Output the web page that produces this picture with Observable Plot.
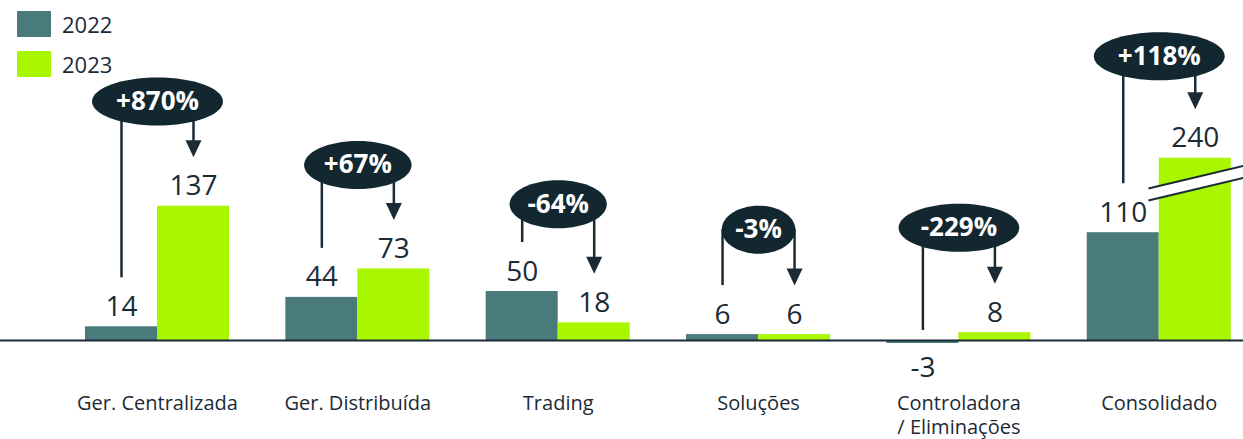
<!DOCTYPE html>
<html><head><meta charset="utf-8">
<script src="https://cdn.jsdelivr.net/npm/d3@7"></script>
<script src="https://cdn.jsdelivr.net/npm/@observablehq/plot@0.6"></script>
<style>
body{margin:0;background:#fff;}
#wrap{position:relative;width:1243px;height:439px;font-family:"Open Sans",sans-serif;overflow:hidden;}
#wrap svg{position:absolute;left:0;top:0;}
.leg{position:absolute;left:17px;height:26px;display:flex;align-items:center;font-size:22px;color:#1b2b36;z-index:2;}
.leg .sw{width:34px;height:26px;margin-right:11px;display:inline-block;}
</style></head><body><div id="wrap"></div>
<script>
// ---- data ----
const categories = ["Ger. Centralizada", "Ger. Distribuída", "Trading", "Soluções", "Controladora\n/ Eliminações", "Consolidado"];
const years = ["2022", "2023"];
const values2022 = [14, 44, 50, 6, -3, 110];
const values2023 = [137, 73, 18, 6, 8, 240];
const changeLabels = ["+870%", "+67%", "-64%", "-3%", "-229%", "+118%"];
const bubbleLevels = [244, 179, 139, 113, 115, 290];   // annotation level (value units)
const breakCap = 186;          // value at which the broken bar is cut
const breakLine = [149, 172];  // axis-break band, left & right level (value units)

// ---- styles ----
const navy = "#1b2b36", bubbleFill = "#132731";
const c22 = "#497a7c", c23 = "#a8f700";
const FONT = "Open Sans";
const half = 0.3594;           // bar width in group units

const bars = [];
categories.forEach((c, i) => {
  [values2022[i], values2023[i]].forEach((v, j) => {
    bars.push({i, year: years[j], value: v, shown: Math.min(v, breakCap),
      x1: j === 0 ? i - half : i, x2: j === 0 ? i : i + half, xc: j === 0 ? i - half / 2 : i + half / 2});
  });
});

const cv = document.createElement("canvas").getContext("2d");
cv.font = `700 26px "${FONT}"`;
const groups = categories.map((c, i) => ({
  i, v22: values2022[i], v23: Math.min(values2023[i], breakCap), label: changeLabels[i],
  level: bubbleLevels[i], rx: 0.79 * cv.measureText(changeLabels[i]).width
}));

const ellipseSymbol = {draw(ctx, size) {
  const rx = Math.sqrt(size / Math.PI), ry = 24, k = 0.5523;
  ctx.moveTo(rx, 0);
  ctx.bezierCurveTo(rx, ry * k, rx * k, ry, 0, ry);
  ctx.bezierCurveTo(-rx * k, ry, -rx, ry * k, -rx, 0);
  ctx.bezierCurveTo(-rx, -ry * k, -rx * k, -ry, 0, -ry);
  ctx.bezierCurveTo(rx * k, -ry, rx, -ry * k, rx, 0);
  ctx.closePath();
}};
const arrowSymbol = {draw(ctx) { ctx.moveTo(0, 0); ctx.lineTo(-8, -17); ctx.lineTo(8, -17); ctx.closePath(); }};

const xDomain = [-0.7836, 5.4205];
const gap = 49;

const chart = Plot.plot({
  width: 1243, height: 439,
  marginLeft: 0, marginRight: 0, marginTop: 0, marginBottom: 67,
  style: {fontFamily: FONT, color: navy, background: "transparent", overflow: "visible"},
  x: {domain: xDomain},
  y: {domain: [-32.65, 346.94], axis: null},
  r: {type: "identity"},
  color: {domain: years, range: [c22, c23]},
  marks: [
    Plot.rect(bars, {x1: "x1", x2: "x2", y1: 0, y2: "shown", fill: "year"}),
    Plot.ruleY([0], {stroke: navy, strokeWidth: 2}),
    // axis break on the broken bar
    Plot.link([0], {x1: 5 - 0.054, x2: xDomain[1], y1: breakLine[0], y2: breakLine[1], stroke: "white", strokeWidth: 11}),
    Plot.link([0], {x1: 5 - 0.054, x2: xDomain[1], y1: breakLine[0], y2: breakLine[1], stroke: navy, strokeWidth: 2, dy: -6}),
    Plot.link([0], {x1: 5 - 0.054, x2: xDomain[1], y1: breakLine[0], y2: breakLine[1], stroke: navy, strokeWidth: 2, dy: 6}),
    // value labels
    Plot.text(bars.filter(d => d.value >= 0), {x: "xc", y: "shown", text: d => String(d.value), lineAnchor: "bottom", dy: -11, fontSize: 28, fill: navy}),
    Plot.text(bars.filter(d => d.value < 0), {x: "xc", y: "shown", text: d => String(d.value), lineAnchor: "top", dy: 14, fontSize: 28, fill: navy}),
    // connectors
    Plot.ruleX(groups.filter(d => d.v22 >= 0), {x: d => d.i - half / 2, y1: "level", y2: "v22", insetBottom: gap, stroke: navy, strokeWidth: 2.5}),
    Plot.ruleX(groups.filter(d => d.v22 < 0), {x: d => d.i - half / 2, y1: "level", y2: 0, insetBottom: 10, stroke: navy, strokeWidth: 2.5}),
    Plot.ruleX(groups, {x: d => d.i + half / 2, y1: "level", y2: "v23", insetBottom: gap + 15, stroke: navy, strokeWidth: 2.5}),
    Plot.dot(groups, {x: d => d.i + half / 2, y: "v23", dy: -gap, r: 1, symbol: arrowSymbol, fill: navy, stroke: "none"}),
    // bubbles
    Plot.dot(groups, {x: "i", y: "level", r: "rx", symbol: ellipseSymbol, fill: bubbleFill, stroke: "none"}),
    Plot.text(groups, {x: "i", y: "level", text: "label", fill: "white", fontWeight: 700, fontSize: 26, lineAnchor: "middle"}),
    // category axis
    Plot.axisX({ticks: d3.range(categories.length), tickFormat: i => categories[i], tickSize: 0, tickPadding: 20, fontSize: 20, lineHeight: 1.22, label: null})
  ]
});

const wrap = document.getElementById("wrap");
wrap.appendChild(chart);
[[years[0], c22, 11], [years[1], c23, 51]].forEach(([t, c, top]) => {
  const d = document.createElement("div");
  d.className = "leg"; d.style.top = top + "px";
  d.innerHTML = `<span class="sw" style="background:${c}"></span><span>${t}</span>`;
  wrap.appendChild(d);
});
</script></body></html>
